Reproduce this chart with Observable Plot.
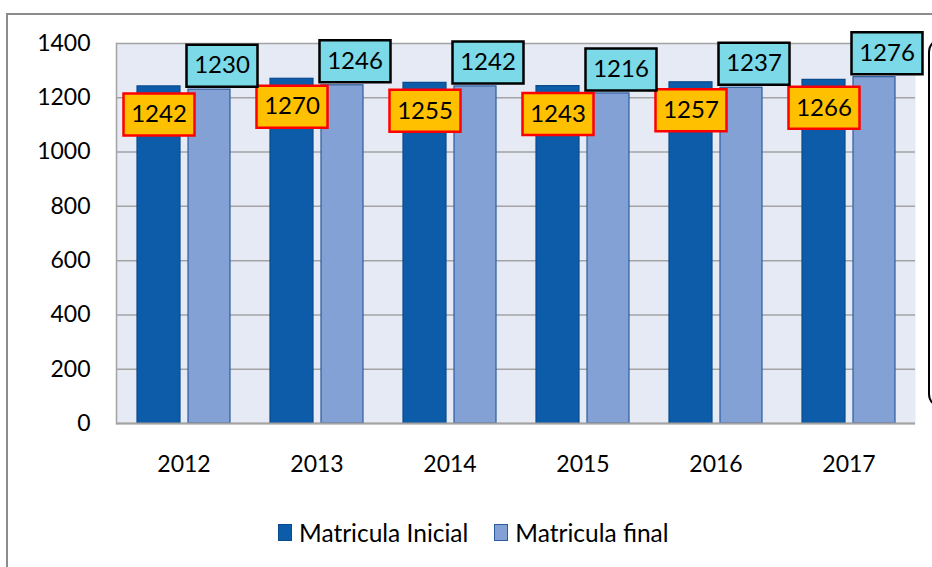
<!DOCTYPE html>
<html><head><meta charset="utf-8">
<script src="https://cdn.jsdelivr.net/npm/d3@7"></script>
<script src="https://cdn.jsdelivr.net/npm/@observablehq/plot@0.6"></script>
<style>
body{margin:0;width:932px;height:567px;overflow:hidden;background:#fff;font-family:Lato,"Open Sans",sans-serif;position:relative}
#frame{position:absolute;left:6px;top:13px;width:1000px;height:1000px;border-top:2px solid #8c8c8c;border-left:2px solid #8c8c8c;box-sizing:border-box}
#side{position:absolute;left:928px;top:38px;width:100px;height:366px;border:2px solid #000;border-radius:14px}
#chart{position:absolute;left:0;top:0}
#legend{position:absolute;left:278px;top:518px;display:flex;align-items:center;font-size:24.5px;color:#000;white-space:nowrap}
.sw{display:inline-block;width:14px;height:17px;box-sizing:border-box;margin-right:7px}
.item{display:flex;align-items:center;margin-right:26px}
</style>
</head><body>
<div id="frame"></div>
<div id="side"></div>
<div id="chart"></div>
<div id="legend">
  <div class="item"><span class="sw" style="background:#0d5caa;border:1px solid #0a4a8e"></span><span id="l1"></span></div>
  <div class="item"><span class="sw" style="background:#84a1d6;border:1.5px solid #2c5c9c"></span><span id="l2"></span></div>
</div>
<script>
const years = ["2012","2013","2014","2015","2016","2017"];
const inicial = [1242,1270,1255,1243,1257,1266];
const final = [1230,1246,1242,1216,1237,1276];
const yTicks = [0,200,400,600,800,1000,1200,1400];
const seriesNames = ["Matricula Inicial","Matricula final"];

document.getElementById("l1").textContent = seriesNames[0];
document.getElementById("l2").textContent = seriesNames[1];

const rows = years.map((y,i)=>({year:y, ini:inicial[i], fin:final[i]}));
const box = {draw(ctx){ ctx.rect(-35.5,-21,71,42); }};

const plot = Plot.plot({
  width:932, height:490,
  marginLeft:116, marginRight:17, marginTop:43, marginBottom:67,
  style:{fontFamily:"Lato, 'Open Sans', sans-serif", fontSize:"23px", color:"#000", background:"transparent", overflow:"visible"},
  x:{domain:years, padding:0, label:null, tickSize:0, tickPadding:32},
  y:{domain:[0,1400], ticks:yTicks, tickFormat:d=>String(d), label:null, tickSize:0, tickPadding:26},
  marks:[
    Plot.frame({fill:"#e6eaf5"}),
    Plot.gridY(yTicks, {stroke:"#a3a3a3", strokeOpacity:1, strokeWidth:1.5}),
    Plot.frame({anchor:"left", stroke:"#a3a3a3", strokeWidth:1.5}),
    Plot.barY(rows, {x:"year", y:"ini", fill:"#0d5caa", stroke:"#0a4a8e", strokeWidth:1.2, insetLeft:20, insetRight:70}),
    Plot.barY(rows, {x:"year", y:"fin", fill:"#84a1d6", stroke:"#2c5c9c", strokeWidth:1.2, insetLeft:71, insetRight:20}),
    Plot.ruleY([0], {stroke:"#a3a3a3", strokeWidth:2}),
    Plot.dot(rows, {x:"year", y:"ini", symbol:box, fill:"#ffc000", stroke:"#ff0000", strokeWidth:2.5, dx:-25, dy:28}),
    Plot.text(rows, {x:"year", y:"ini", text:d=>String(d.ini), dx:-25, dy:28, fontSize:24, fill:"#000"}),
    Plot.dot(rows, {x:"year", y:"fin", symbol:box, fill:"#7bd9e8", stroke:"#000", strokeWidth:2.5, dx:38, dy:-24}),
    Plot.text(rows, {x:"year", y:"fin", text:d=>String(d.fin), dx:38, dy:-24, fontSize:24, fill:"#000"})
  ]
});
document.getElementById("chart").appendChild(plot);
</script>
</body></html>
